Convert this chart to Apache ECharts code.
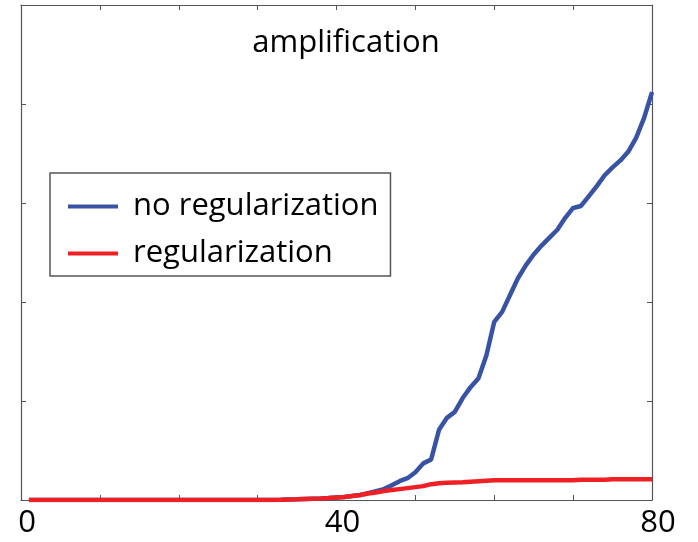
<!DOCTYPE html>
<html>
<head>
<meta charset="utf-8">
<script src="https://cdn.jsdelivr.net/npm/echarts@6/dist/echarts.min.js"></script>
<style>
    html, body { margin: 0; padding: 0; background: #ffffff; }
    #chart { width: 698px; height: 542px; }
</style>
</head>
<body>
<div id="chart"></div>
<script>
// x positions (iterations) 1..80
const steps = [];
for (let i = 1; i <= 80; i++) steps.push(i);

// one value per step
const noRegValues = [
    0, 0, 0, 0, 0, 0, 0, 0, 0, 0,
    0, 0, 0, 0, 0, 0, 0, 0, 0, 0,
    0, 0, 0, 0, 0, 0, 0, 0, 0, 0,
    0, 0, 0.002, 0.005, 0.007, 0.01, 0.013, 0.016, 0.02, 0.025,
    0.03, 0.04, 0.05, 0.07, 0.09, 0.11, 0.15, 0.19, 0.22, 0.28,
    0.37, 0.41, 0.71, 0.83, 0.89, 1.03, 1.14, 1.23, 1.46, 1.80,
    1.90, 2.07, 2.24, 2.37, 2.48, 2.57, 2.65, 2.73, 2.85, 2.95,
    2.97, 3.07, 3.17, 3.28, 3.36, 3.43, 3.52, 3.66, 3.86, 4.12
];
const regValues = [
    0, 0, 0, 0, 0, 0, 0, 0, 0, 0,
    0, 0, 0, 0, 0, 0, 0, 0, 0, 0,
    0, 0, 0, 0, 0, 0, 0, 0, 0, 0,
    0, 0, 0.002, 0.005, 0.007, 0.01, 0.013, 0.016, 0.02, 0.025,
    0.03, 0.04, 0.05, 0.065, 0.075, 0.09, 0.1, 0.11, 0.12, 0.13,
    0.14, 0.16, 0.17, 0.175, 0.178, 0.18, 0.185, 0.19, 0.195, 0.2,
    0.2, 0.2, 0.2, 0.2, 0.2, 0.2, 0.2, 0.2, 0.2, 0.2,
    0.205, 0.205, 0.205, 0.205, 0.21, 0.21, 0.21, 0.21, 0.21, 0.21
];
const xLabels = [0, 40, 80];

const font = '"Open Sans", "DejaVu Sans", sans-serif';
const axisColor = '#555555';

function pairs(vals) {
    return steps.map((s, i) => [s, vals[i]]);
}

function createXAxis() {
    const base = {
        type: 'value', min: 0, max: 80, interval: 10,
        axisLine: { show: true, onZero: false, lineStyle: { color: axisColor, width: 1.2 } },
        axisTick: { show: true, inside: true, length: 5, lineStyle: { color: axisColor } },
        splitLine: { show: false }
    };
    return [
        Object.assign({}, base, {
            position: 'bottom',
            axisLabel: {
                show: true, color: '#000', fontFamily: font, fontSize: 31, margin: 8,
                padding: [0, 0, 0, 12],
                formatter: v => xLabels.indexOf(v) >= 0 ? String(v) : ''
            }
        }),
        Object.assign({}, base, { position: 'top', axisLabel: { show: false } })
    ];
}

function createYAxis() {
    const base = {
        type: 'value', min: 0, max: 5, interval: 1,
        axisLine: { show: true, onZero: false, lineStyle: { color: axisColor, width: 1.2 } },
        axisTick: { show: true, inside: true, length: 5, lineStyle: { color: axisColor } },
        axisLabel: { show: false },
        splitLine: { show: false }
    };
    return [
        Object.assign({}, base, { position: 'left' }),
        Object.assign({}, base, { position: 'right' })
    ];
}

const chart = echarts.init(document.getElementById('chart'), null, { renderer: 'canvas' });
chart.setOption({
    backgroundColor: '#ffffff',
    animation: false,
    title: {
        text: 'amplification',
        left: 341, top: 23, textAlign: 'center',
        textStyle: { fontFamily: font, fontWeight: 'normal', fontSize: 31, color: '#000' }
    },
    legend: {
        orient: 'vertical',
        left: 50, top: 173,
        padding: [18, 12, 7, 18],
        itemGap: 16,
        itemWidth: 50, itemHeight: 4,
        borderColor: '#555555', borderWidth: 1.5,
        backgroundColor: '#ffffff',
        icon: 'rect',
        textStyle: { fontFamily: font, fontSize: 31, color: '#000', padding: [0, 0, 0, 10] },
        data: ['no regularization', 'regularization']
    },
    grid: { left: 21, right: 46, top: 5, bottom: 42, containLabel: false },
    xAxis: createXAxis(),
    yAxis: createYAxis(),
    series: [{
        name: 'no regularization', type: 'line', showSymbol: false,
        xAxisIndex: 0, yAxisIndex: 0,
        lineStyle: { color: '#3953A4', width: 4.5 }, itemStyle: { color: '#3953A4' },
        data: pairs(noRegValues), z: 2
    }, {
        name: 'regularization', type: 'line', showSymbol: false,
        xAxisIndex: 0, yAxisIndex: 0,
        lineStyle: { color: '#EE2024', width: 4.5 }, itemStyle: { color: '#EE2024' },
        data: pairs(regValues), z: 3
    }]
});
</script>
</body>
</html>
